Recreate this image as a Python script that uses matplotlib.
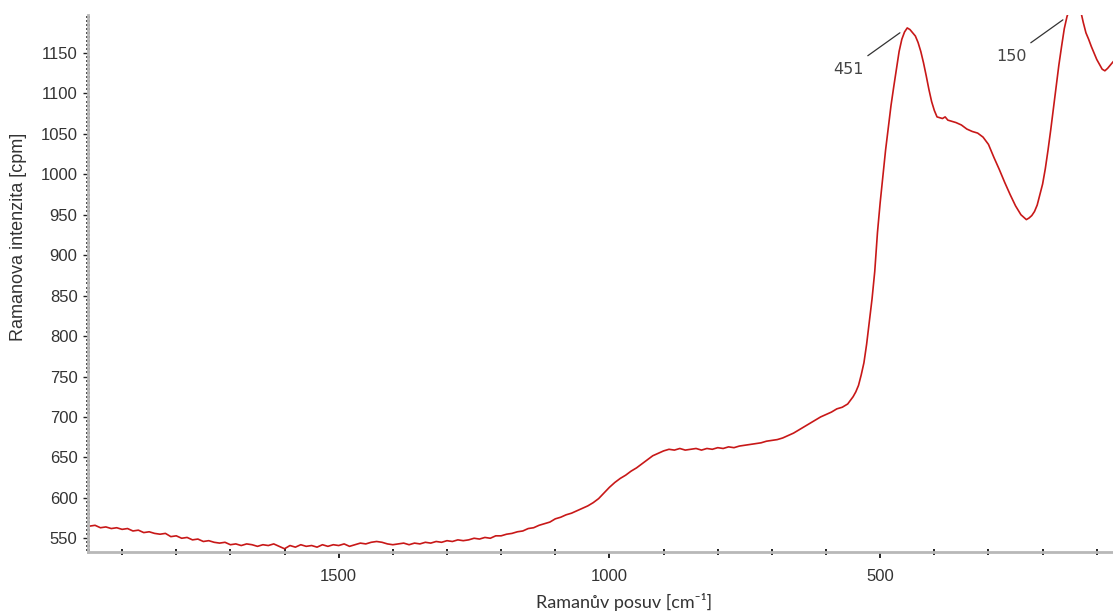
import matplotlib.pyplot as plt
from matplotlib.ticker import MultipleLocator


# Raman spectrum (descending shift, cm^-1 / cpm)
raman_shift = [
    1960, 1950, 1940, 1930, 1920, 1910, 1900, 1890, 1880, 1870,
    1860, 1850, 1840, 1830, 1820, 1810, 1800, 1790, 1780, 1770,
    1760, 1750, 1740, 1730, 1720, 1710, 1700, 1690, 1680, 1670,
    1660, 1650, 1640, 1630, 1620, 1610, 1600, 1590, 1580, 1570,
    1560, 1550, 1540, 1530, 1520, 1510, 1500, 1490, 1480, 1470,
    1460, 1450, 1440, 1430, 1420, 1410, 1400, 1390, 1380, 1370,
    1360, 1350, 1340, 1330, 1320, 1310, 1300, 1290, 1280, 1270,
    1260, 1250, 1240, 1230, 1220, 1210, 1200, 1190, 1180, 1170,
    1160, 1150, 1140, 1130, 1120, 1110, 1100, 1090, 1080, 1070,
    1060, 1050, 1040, 1030, 1020, 1010, 1000, 990, 980, 970,
    960, 950, 940, 930, 920, 910, 900, 890, 880, 870,
    860, 850, 840, 830, 820, 810, 800, 790, 780, 770,
    760, 750, 740, 730, 720, 710, 700, 690, 680, 670,
    660, 650, 640, 630, 620, 610, 600, 590, 580, 570,
    560, 550, 545, 540, 535, 530, 525, 520, 515, 510,
    505, 500, 495, 490, 485, 480, 475, 470, 465, 460,
    455, 450, 445, 440, 435, 430, 425, 420, 415, 410,
    405, 400, 395, 390, 385, 380, 375, 370, 365, 360,
    350, 340, 330, 320, 310, 300, 290, 280, 270, 260,
    250, 240, 235, 230, 225, 220, 215, 210, 205, 200,
    195, 190, 185, 180, 175, 170, 165, 160, 155, 150,
    140, 130, 125, 120, 115, 110, 105, 100, 95, 90,
    85, 80, 75, 70,
]
intensity = [
    565, 566, 563, 564, 562, 563, 561, 562, 559, 560,
    557, 558, 556, 555, 556, 552, 553, 550, 551, 548,
    549, 546, 547, 545, 544, 545, 542, 543, 541, 543,
    542, 540, 542, 541, 543, 540, 537, 541, 539, 542,
    540, 541, 539, 542, 540, 542, 541, 543, 540, 542,
    544, 543, 545, 546, 545, 543, 542, 543, 544, 542,
    544, 543, 545, 544, 546, 545, 547, 546, 548, 547,
    548, 550, 549, 551, 550, 553, 553, 555, 556, 558,
    559, 562, 563, 566, 568, 570, 574, 576, 579, 581,
    584, 587, 590, 594, 599, 606, 613, 619, 624, 628,
    633, 637, 642, 647, 652, 655, 658, 660, 659, 661,
    659, 660, 661, 659, 661, 660, 662, 661, 663, 662,
    664, 665, 666, 667, 668, 670, 671, 672, 674, 677,
    680, 684, 688, 692, 696, 700, 703, 706, 710, 712,
    716, 725, 731, 739, 752, 767, 790, 818, 846, 880,
    928, 965, 997, 1030, 1058, 1085, 1108, 1130, 1152, 1167,
    1176, 1181, 1179, 1175, 1171, 1163, 1152, 1138, 1122, 1105,
    1090, 1079, 1071, 1070, 1069, 1071, 1067, 1066, 1065, 1064,
    1061, 1056, 1053, 1051, 1046, 1037, 1021, 1006, 990, 975,
    961, 950, 947, 944, 946, 949, 954, 962, 975, 988,
    1007, 1030, 1055, 1082, 1110, 1135, 1158, 1180, 1195, 1205,
    1210, 1203, 1188, 1175, 1167, 1158, 1150, 1142, 1136, 1130,
    1128, 1131, 1135, 1139,
]

peak_positions = [451, 150]
peak_labels = ["451", "150"]

X_LIMITS = (1963, 70)
Y_LIMITS = (533, 1197)

plt.rcParams["font.family"] = ["Liberation Sans", "DejaVu Sans"]

fig = plt.figure(figsize=(11.13, 6.12), dpi=100)
ax = fig.add_axes([88 / 1113, 60 / 612, 1025 / 1113, 537 / 612])

ax.plot(raman_shift, intensity, color="#c81818", lw=1.2)
ax.set_xlim(*X_LIMITS)
ax.set_ylim(*Y_LIMITS)

for side in ("top", "right"):
    ax.spines[side].set_visible(False)
for side in ("left", "bottom"):
    ax.spines[side].set_color("#b8b8b8")
    ax.spines[side].set_linewidth(2.0)

ax.xaxis.set_major_locator(MultipleLocator(500))
ax.xaxis.set_minor_locator(MultipleLocator(100))
ax.yaxis.set_major_locator(MultipleLocator(50))
ax.yaxis.set_minor_locator(MultipleLocator(5))

ax.tick_params(axis="x", which="major", direction="out", length=4.5, width=1.2,
               color="black", labelcolor="#333333", labelsize=12, pad=8)
ax.tick_params(axis="x", which="minor", direction="inout", length=4,
               width=1.2, color="black")
ax.tick_params(axis="y", which="major", direction="out", length=3.5,
               width=1.0, color="#222222", labelcolor="#333333",
               labelsize=12, pad=4)
ax.tick_params(axis="y", which="minor", direction="inout", length=2.5,
               width=1.1, color="#222222")

fig.text(19 / 1113, 1 - 237 / 612, "Ramanova intenzita [cpm]", rotation=90,
         ha="center", va="center", fontsize=13, color="#333333")
fig.text(624 / 1113, 1 - 602 / 612, "Ramanův posuv [cm⁻¹]",
         ha="center", va="center", fontsize=13, color="#333333",
         family=["Lato", "DejaVu Sans"])

# peak labels with short leader lines
for pos, label in zip(peak_positions, peak_labels):
    nearest = min(range(len(raman_shift)), key=lambda i: abs(raman_shift[i] - pos))
    top = min(intensity[nearest], Y_LIMITS[1])
    ax.annotate("", xy=(pos, top), xytext=(-28, -20),
                textcoords="offset points", xycoords="data",
                arrowprops=dict(arrowstyle="-", color="#333333", lw=0.9,
                                shrinkA=0, shrinkB=6),
                annotation_clip=False)
    ax.annotate(label, xy=(pos, top), xytext=(-42, -30),
                textcoords="offset points", ha="center", va="center",
                fontsize=11.5, color="#444444", family="DejaVu Sans",
                annotation_clip=False)

fig.savefig("out.png", dpi=100)
